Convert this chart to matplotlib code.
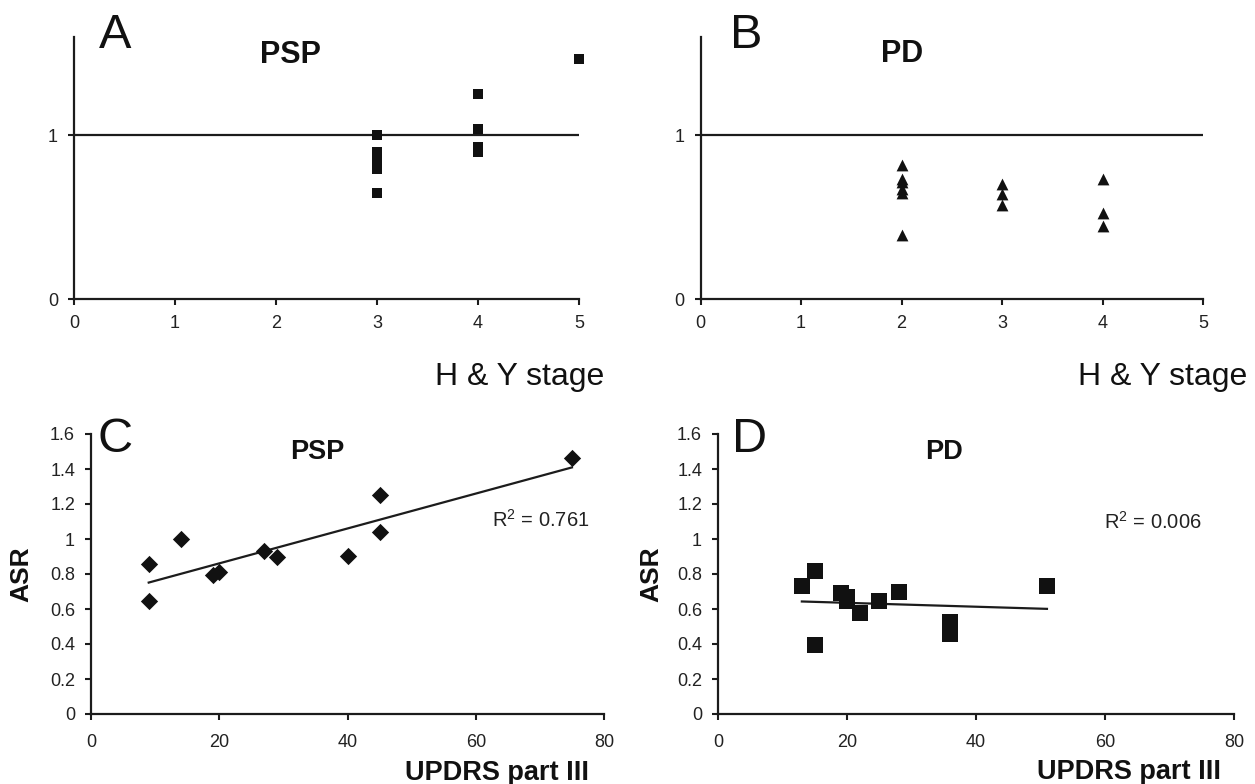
import matplotlib
matplotlib.use("Agg")
import matplotlib.pyplot as plt
import numpy as np

plt.rcParams['font.family'] = ['Liberation Sans', 'DejaVu Sans']
plt.rcParams['mathtext.fontset'] = 'custom'
plt.rcParams['mathtext.rm'] = 'Liberation Sans'
plt.rcParams['mathtext.it'] = 'Liberation Sans'

# ---------------- data ----------------
# Panel A: PSP, ASR vs H & Y stage
psp_hy = [3, 3, 3, 3, 3, 3, 4, 4, 4, 4, 5]
psp_hy_asr = [1.0, 0.90, 0.86, 0.81, 0.795, 0.645, 1.25, 1.04, 0.93, 0.90, 1.465]
# Panel B: PD, ASR vs H & Y stage
pd_hy = [2, 2, 2, 2, 2, 2, 3, 3, 3, 4, 4, 4]
pd_hy_asr = [0.816, 0.735, 0.714, 0.673, 0.647, 0.392, 0.70, 0.639, 0.576, 0.73, 0.527, 0.445]
# Panel C: PSP, ASR vs UPDRS III
psp_updrs = [9, 9, 14, 19, 20, 27, 29, 40, 45, 45, 75]
psp_updrs_asr = [0.857, 0.644, 1.0, 0.795, 0.809, 0.931, 0.899, 0.902, 1.249, 1.038, 1.465]
psp_fit = [0.00997, 0.6613]      # slope, intercept
psp_r2 = "0.761"
# Panel D: PD, ASR vs UPDRS III
pd_updrs = [13, 15, 15, 19, 20, 20, 22, 25, 28, 36, 36, 51]
pd_updrs_asr = [0.73, 0.816, 0.392, 0.69, 0.67, 0.645, 0.576, 0.647, 0.70, 0.527, 0.455, 0.73]
pd_fit = [-0.00111, 0.6574]
pd_r2 = "0.006"

hy_ticks = [0, 1, 2, 3, 4, 5]
hy_yticks = [0, 1]
updrs_ticks = [0, 20, 40, 60, 80]
asr_ticks = [0, 0.2, 0.4, 0.6, 0.8, 1.0, 1.2, 1.4, 1.6]

W, H = 1255, 784
fig = plt.figure(figsize=(W / 100, H / 100), dpi=100)
INK = '#1c1c1c'


def px_axes(x0, x1, y0, y1):
    # x0,x1: left/right pixel; y0: bottom pixel (from top), y1: top pixel
    return fig.add_axes([x0 / W, (H - y0) / H, (x1 - x0) / W, (y0 - y1) / H])


def style(ax, xpad, ypad):
    for s in ['top', 'right']:
        ax.spines[s].set_visible(False)
    for s in ['left', 'bottom']:
        ax.spines[s].set_linewidth(1.6)
        ax.spines[s].set_color(INK)
    ax.tick_params(axis='both', direction='out', length=4.5, width=1.5,
                   color=INK, labelsize=13, labelcolor='#222222')
    ax.tick_params(axis='x', pad=xpad)
    ax.tick_params(axis='y', pad=ypad)


def ftext(x, y, s, **kw):
    fig.text(x / W, (H - y) / H, s, **kw)


# Panel A
axA = px_axes(74, 579, 299, 37)
axA.scatter(psp_hy, psp_hy_asr, marker='s', s=7 ** 2, color='#111111',
            linewidths=0, clip_on=False, zorder=3)
axA.axhline(1, color=INK, lw=1.6, zorder=2)
axA.set_xlim(0, 5)
axA.set_ylim(0, 1.6)
axA.set_xticks(hy_ticks)
axA.set_yticks(hy_yticks)
style(axA, 7, 7)

# Panel B
axB = px_axes(700.5, 1203, 299, 37)
axB.scatter(pd_hy, pd_hy_asr, marker='^', s=8.5 ** 2, color='#111111',
            linewidths=0, clip_on=False, zorder=3)
axB.axhline(1, color=INK, lw=1.6, zorder=2)
axB.set_xlim(0, 5)
axB.set_ylim(0, 1.6)
axB.set_xticks(hy_ticks)
axB.set_yticks(hy_yticks)
style(axB, 7, 7)

# Panel C
axC = px_axes(91, 604, 714, 434)
axC.scatter(psp_updrs, psp_updrs_asr, marker='D', s=8.8 ** 2, color='#111111',
            linewidths=0, clip_on=False, zorder=3)
xs = np.array([min(psp_updrs), max(psp_updrs)])
axC.plot(xs, psp_fit[0] * xs + psp_fit[1], color=INK, lw=1.6, zorder=2)
axC.set_xlim(0, 80)
axC.set_ylim(0, 1.6)
axC.set_xticks(updrs_ticks)
axC.set_yticks(asr_ticks)
axC.set_yticklabels(['%g' % v for v in asr_ticks])
style(axC, 10, 7)

# Panel D
axD = px_axes(718, 1234, 714, 434)
axD.scatter(pd_updrs, pd_updrs_asr, marker='s', s=11.5 ** 2, color='#111111',
            linewidths=0, clip_on=False, zorder=3)
xs = np.array([min(pd_updrs), max(pd_updrs)])
axD.plot(xs, pd_fit[0] * xs + pd_fit[1], color=INK, lw=1.6, zorder=2)
axD.set_xlim(0, 80)
axD.set_ylim(0, 1.6)
axD.set_xticks(updrs_ticks)
axD.set_yticks(asr_ticks)
axD.set_yticklabels(['%g' % v for v in asr_ticks])
style(axD, 10, 7)

# Panel letters
for (x, y, s) in [(99, 48, 'A'), (730, 48, 'B'), (97, 452, 'C'), (732, 452, 'D')]:
    ftext(x, y, s, fontsize=35, color='#111111', va='baseline', ha='left')

# Titles
ftext(260, 63, 'PSP', fontsize=22, fontweight='bold', va='baseline', color='#111111')
ftext(881, 62, 'PD', fontsize=22, fontweight='bold', va='baseline', color='#111111')
ftext(290, 459, 'PSP', fontsize=19.5, fontweight='bold', va='baseline', color='#111111')
ftext(925, 459, 'PD', fontsize=19.5, fontweight='bold', va='baseline', color='#111111')

# Axis labels
ftext(435, 385, 'H & Y stage', fontsize=23, va='baseline', color='#111111')
ftext(1078, 385, 'H & Y stage', fontsize=23, va='baseline', color='#111111')
ftext(405, 780, 'UPDRS part III', fontsize=19.5, fontweight='bold', va='baseline', color='#111111')
ftext(1037, 779, 'UPDRS part III', fontsize=19.5, fontweight='bold', va='baseline', color='#111111')
ftext(21, 574, 'ASR', fontsize=19, fontweight='bold', rotation=90, ha='center', va='center', color='#111111')
ftext(651, 574, 'ASR', fontsize=19, fontweight='bold', rotation=90, ha='center', va='center', color='#111111')

# R^2 annotations
ftext(492, 527, 'R$^{2}$ = ' + psp_r2, fontsize=14.5, va='baseline', color='#222222')
ftext(1104, 529, 'R$^{2}$ = ' + pd_r2, fontsize=14.5, va='baseline', color='#222222')

fig.savefig('out.png', dpi=100)
